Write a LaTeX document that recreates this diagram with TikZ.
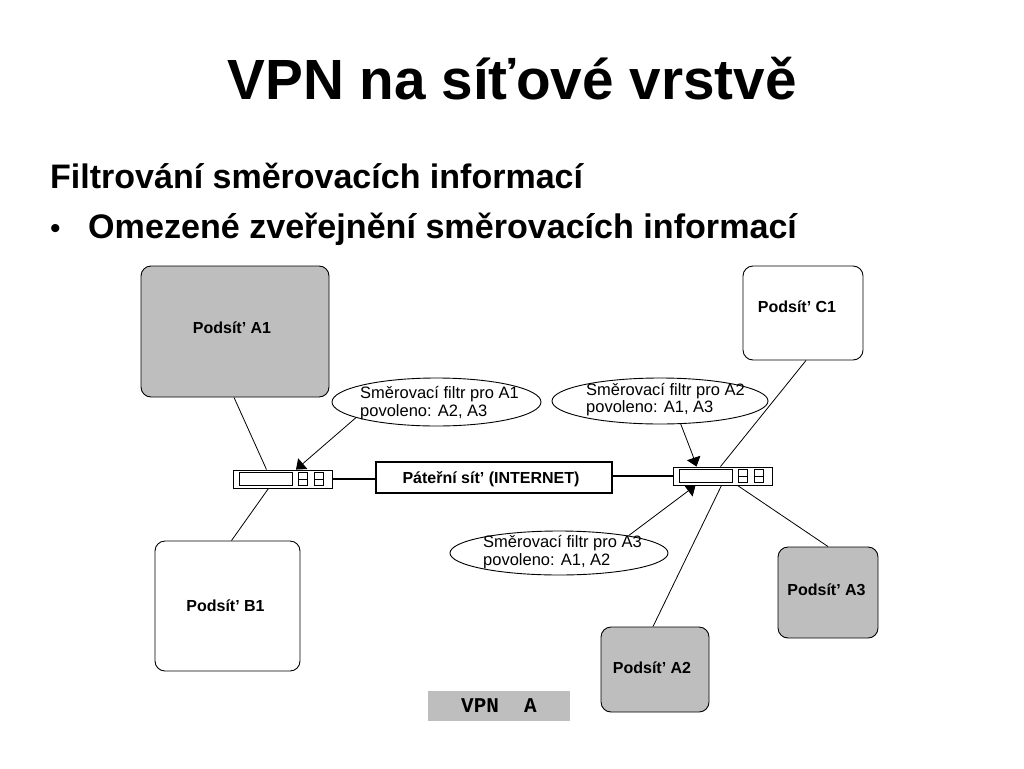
\documentclass[tikz,border=0pt]{standalone}
\usepackage{fontspec}
\setmainfont{Liberation Sans}
\newfontfamily\vpnmono{Liberation Mono}
\usetikzlibrary{shapes.geometric,arrows.meta}
\definecolor{boxgray}{HTML}{BEBEBE}
\tikzset{
  net/.style={draw=black,line width=0.9pt,rounded corners=10pt,font=\fontsize{16}{18}\selectfont\bfseries,text=black,inner sep=0pt},
  gray net/.style={net,fill=boxgray},
  filterbub/.style={draw=black,line width=0.9pt,ellipse,inner sep=0pt},
  filtertext/.style={font=\fontsize{16.5}{17.5}\selectfont,align=left,anchor=west,inner sep=0pt},
  routerbox/.style={draw=black,line width=0.9pt,minimum width=99pt,minimum height=18pt,inner sep=0pt,fill=white},
  link/.style={draw=black,line width=0.8pt},
  trunk/.style={draw=black,line width=1.8pt},
  filterarrow/.style={draw=black,line width=0.8pt,-{Triangle[length=9pt,width=14pt]}},
}
\newcommand{\routerparts}[2]{%
  \draw[line width=0.9pt] (#1-43.5,#2-6.5) rectangle (#1+9.5,#2+6.5);
  \draw[line width=0.9pt] (#1+16,#2-6.5) rectangle (#1+25,#2+6.5);
  \draw[line width=0.9pt] (#1+16,#2) -- (#1+25,#2);
  \draw[line width=0.9pt] (#1+31.5,#2-6.5) rectangle (#1+40.5,#2+6.5);
  \draw[line width=0.9pt] (#1+31.5,#2) -- (#1+40.5,#2);
}
\begin{document}
\begin{tikzpicture}[x=1pt,y=-1pt]
\useasboundingbox (0,0) rectangle (1024,768);
\fill[white] (0,0) rectangle (1024,768);
% headings
\node[inner sep=0pt,font=\fontsize{56.7}{60}\selectfont\bfseries] (title) at (512,79) {VPN na síťové vrstvě};
\node[inner sep=0pt,anchor=base west,font=\fontsize{34}{36}\selectfont\bfseries] (head) at (50,188) {Filtrování směrovacích informací};
\node[inner sep=0pt,anchor=base west,font=\fontsize{30}{32}\selectfont] (bullet) at (50,238) {•};
\node[inner sep=0pt,anchor=base west,font=\fontsize{34.1}{36}\selectfont\bfseries] (sub) at (88,238) {Omezené zveřejnění směrovacích informací};
% networks
\node[gray net,minimum width=188pt,minimum height=131pt] (a1) at (235,331.5) {\hspace*{-6pt}\raisebox{8pt}{Podsít' A1}};
\node[net,minimum width=145pt,minimum height=130pt] (b1) at (227.5,606) {\hspace*{-4pt}Podsít' B1};
\node[net,minimum width=120pt,minimum height=94pt] (c1) at (803,313) {\hspace*{-12pt}\raisebox{12pt}{Podsít' C1}};
\node[gray net,minimum width=100pt,minimum height=91pt] (a3) at (828,592.5) {\hspace*{-3pt}\raisebox{5pt}{Podsít' A3}};
\node[gray net,minimum width=108pt,minimum height=85pt] (a2) at (655,669.5) {\hspace*{-6pt}\raisebox{4pt}{Podsít' A2}};
% backbone
\node[draw=black,line width=1.1pt,minimum width=236pt,minimum height=31pt,inner sep=0pt,font=\fontsize{16}{18}\selectfont\bfseries] (bb) at (494,477.5) {\hspace*{-6pt}\raisebox{-5.5pt}[0pt][0pt]{Páteřní sít' (INTERNET)}};
% routers
\node[routerbox] (r1) at (282.5,479) {};
\node[routerbox] (r2) at (722.5,476) {};
\routerparts{282.5}{479}
\routerparts{722.5}{476}
% filter bubbles
\node[filterbub,minimum width=209pt,minimum height=48pt] (e1) at (436.5,402) {};
\node[filtertext] at (360,403) {Směrovací filtr pro A1\\povoleno: A2, A3};
\node[filterbub,minimum width=216pt,minimum height=46pt] (e2) at (660,401) {};
\node[filtertext] at (586,399.5) {Směrovací filtr pro A2\\povoleno: A1, A3};
\node[filterbub,minimum width=218pt,minimum height=44pt] (e3) at (559,553) {};
\node[filtertext] at (483,552) {Směrovací filtr pro A3\\povoleno: A1, A2};
% links
\draw[link] ([xshift=-1pt]a1.south) -- ([xshift=-16pt]r1.north);
\draw[link] ([xshift=-14pt]r1.south) -- ([xshift=4pt]b1.north);
\draw[link] ([xshift=3pt]c1.south) -- ([xshift=-2pt]r2.north);
\draw[link] ([xshift=-1pt]r2.south) -- ([xshift=-2pt]a2.north);
\draw[link] ([xshift=15pt]r2.south) -- (a3.north);
\draw[trunk] (r1.east) -- (r1.east -| bb.west);
\draw[trunk] (bb.east |- r2.west) -- (r2.west);
% arrows
\draw[filterarrow] (e1.-169) -- ([xshift=13.5pt]r1.north);
\draw[filterarrow] (e2.-48) .. controls ([xshift=-30pt,yshift=12pt]r2.north) .. ([xshift=-26pt]r2.north);
\draw[filterarrow] (e3.14) -- ([xshift=-27pt]r2.south);
% caption
\node[fill=boxgray,minimum width=142pt,minimum height=30pt,inner sep=0pt,font=\fontsize{21}{23}\selectfont\vpnmono\bfseries] (cap) at (499,706) {VPN\ \ A};
\end{tikzpicture}
\end{document}
